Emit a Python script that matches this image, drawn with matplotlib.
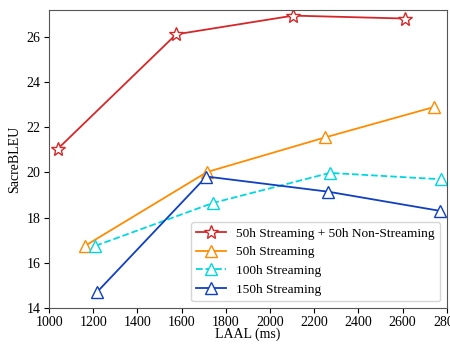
import matplotlib
matplotlib.use("Agg")
import matplotlib.pyplot as plt

plt.rcParams['font.family'] = ['Liberation Serif', 'DejaVu Serif']

labels = ["50h Streaming + 50h Non-Streaming", "50h Streaming", "100h Streaming", "150h Streaming"]
x_red = [1040, 1575, 2105, 2610]
y_red = [21.05, 26.12, 26.95, 26.82]
x_orange = [1163, 1715, 2248, 2742]
y_orange = [16.75, 20.02, 21.55, 22.9]
x_cyan = [1210, 1742, 2270, 2772]
y_cyan = [16.75, 18.65, 19.98, 19.7]
x_blue = [1217, 1712, 2262, 2768]
y_blue = [14.7, 19.82, 19.15, 18.3]

colors = ["#d62728", "#ff8c00", "#00d8e0", "#1040c0"]

fig = plt.figure(figsize=(4.5, 3.44), dpi=100)
ax = fig.add_axes([0.109, 0.105, 0.884, 0.866])

ms = 9
ax.plot(x_red, y_red, color=colors[0], marker='*', ms=10, mfc='white', mew=1.0, lw=1.3, label=labels[0])
ax.plot(x_orange, y_orange, color=colors[1], marker='^', ms=ms, mfc='white', mew=1.0, lw=1.3, label=labels[1])
ax.plot(x_cyan, y_cyan, color=colors[2], marker='^', ms=ms, mfc='white', mew=1.0, lw=1.3, ls='--', label=labels[2])
ax.plot(x_blue, y_blue, color=colors[3], marker='^', ms=ms, mfc='white', mew=1.0, lw=1.3, label=labels[3])

ax.set_xlim(1000, 2800)
ax.set_ylim(14, 27.2)
ax.set_xticks(range(1000, 2801, 200))
ax.set_yticks(range(14, 27, 2))
ax.tick_params(labelsize=10, pad=2.5)
ax.set_xlabel("LAAL (ms)", fontsize=10, labelpad=-1)
ax.set_ylabel("SacreBLEU", fontsize=10)
for s in ax.spines.values():
    s.set_color('#555555')
ax.legend(loc='lower right', fontsize=9.6, handlelength=2.2, borderpad=0.4, labelspacing=0.48)

fig.savefig("out.png", dpi=100)
